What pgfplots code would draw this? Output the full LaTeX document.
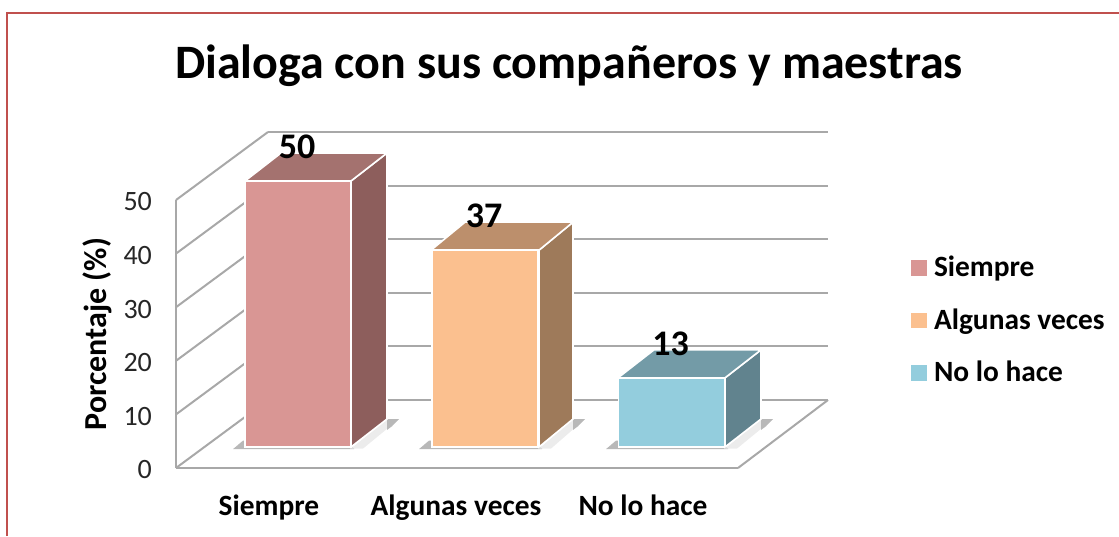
\documentclass[border=0pt]{standalone}
\usepackage{fontspec}
\setmainfont{Carlito}
\usepackage{pgfplots}
\pgfplotsset{compat=1.18}
% 1 px of the reference = 0.5pt
\definecolor{frameRed}{HTML}{C0504D}
\definecolor{wallGrey}{HTML}{A8A8A8}
\definecolor{shadowGrey}{HTML}{B8B8B8}
\definecolor{shadowPale}{HTML}{ECECEC}
\definecolor{redF}{HTML}{D99694}
\definecolor{redT}{HTML}{A4726F}
\definecolor{redS}{HTML}{8D5E5C}
\definecolor{orgF}{HTML}{FBC08F}
\definecolor{orgT}{HTML}{BC8F6C}
\definecolor{orgS}{HTML}{9E7A5A}
\definecolor{bluF}{HTML}{93CDDD}
\definecolor{bluT}{HTML}{739BA7}
\definecolor{bluS}{HTML}{61838E}
\pgfplotsset{
  wall/.style={draw=wallGrey, line width=1pt, forget plot, no markers, sharp plot},
  face/.style={draw=white, line width=0.8pt, fill=#1, forget plot, no markers, sharp plot},
  shadow/.style={draw=none, fill=#1, forget plot, no markers, sharp plot},
  bar3d/.style={ybar, bar width=53pt, bar shift=0pt, fill=#1, draw=white, line width=0.8pt,
    nodes near coords, nodes near coords align={center},
    every node near coord/.append style={font=\fontsize{18}{20}\selectfont\bfseries, text=black, yshift=17pt, xshift=-0.5pt},
    legend image code/.code={\fill[#1] (0pt,-3.5pt) rectangle (7pt,3.5pt);}},
}
\begin{document}
\begin{tikzpicture}
\path[use as bounding box] (0,0) rectangle (559.5pt,268pt);
\draw[frameRed, line width=1pt] (3.3pt,0) -- (3.3pt,261.5pt) -- (559.5pt,261.5pt);
\node[font=\fontsize{24}{28}\selectfont\bfseries] at (284.5pt,235pt) {Dialoga con sus compañeros y maestras};

% frame: walls, floor, ticks
\begin{axis}[
  at={(88pt,34pt)}, anchor=south west, scale only axis,
  width=281pt, height=134pt,
  xmin=176, xmax=738, ymin=0, ymax=50,
  clip=false,
  axis x line*=bottom, axis y line*=left,
  axis line style={draw=wallGrey, line width=1pt, -},
  xtick={269,456,643},
  xticklabels={Siempre,Algunas veces,No lo hace},
  ytick={0,10,20,30,40,50},
  major tick length=0pt,
  /pgf/number format/assume math mode=true,
  xticklabel style={font=\fontsize{14.7}{16}\selectfont\bfseries, text=black, yshift=-10pt},
  yticklabel style={font=\fontsize{14}{16}\selectfont, text=black!85, xshift=-8.5pt, yshift=-1pt},
  ylabel={Porcentaje (\%)},
  every axis y label/.style={at={(rel axis cs:0,0.5)}, rotate=90, anchor=center,
    yshift=39.5pt, font=\fontsize{16}{18}\selectfont\bfseries},
]
% back wall lines
\addplot[wall] coordinates {(268,12.69) (828,12.69)};
\addplot[wall] coordinates {(268,22.69) (828,22.69)};
\addplot[wall] coordinates {(268,32.69) (828,32.69)};
\addplot[wall] coordinates {(268,42.69) (828,42.69)};
\addplot[wall] coordinates {(268,52.69) (828,52.69)};
\addplot[wall] coordinates {(268,62.69) (828,62.69)};
% side wall lines
\addplot[wall] coordinates {(176,0) (268,12.69)};
\addplot[wall] coordinates {(176,10) (268,22.69)};
\addplot[wall] coordinates {(176,20) (268,32.69)};
\addplot[wall] coordinates {(176,30) (268,42.69)};
\addplot[wall] coordinates {(176,40) (268,52.69)};
\addplot[wall] coordinates {(176,50) (268,62.69)};
% floor edge
\addplot[wall] coordinates {(738,0) (828,12.69)};
\end{axis}

% bars, base 21 px above the axis line
\begin{axis}[
  at={(88pt,44.5pt)}, anchor=south west, scale only axis,
  width=281pt, height=133pt,
  xmin=176, xmax=738, ymin=0, ymax=50,
  clip=false, hide axis,
  /pgf/number format/assume math mode=true,
  legend style={at={(axis cs:911,23.8)}, anchor=west, draw=none, fill=none,
    font=\fontsize{14.7}{16}\selectfont\bfseries, row sep=12.5pt, column sep=2.5pt, inner sep=0pt, nodes={inner sep=1pt}},
  legend cell align=left,
]
% floor shadows
\addplot[shadow=shadowGrey] coordinates {(233,-0.4) (243,1.2) (246,1.2) (354,0) (354,-0.4)} -- cycle;
\addplot[shadow=shadowPale] coordinates {(351,-0.3) (387,5.26) (399,5.26) (363,-0.3)} -- cycle;
\addplot[shadow=shadowGrey] coordinates {(387,5.26) (399,5.26) (392,3.9) (387,3.2)} -- cycle;
\addplot[shadow=shadowGrey] coordinates {(419,-0.4) (429,1.2) (432,1.2) (542,0) (542,-0.4)} -- cycle;
\addplot[shadow=shadowPale] coordinates {(539,-0.3) (573,5.26) (585,5.26) (551,-0.3)} -- cycle;
\addplot[shadow=shadowGrey] coordinates {(573,5.26) (585,5.26) (578,3.9) (573,3.2)} -- cycle;
\addplot[shadow=shadowGrey] coordinates {(606,-0.4) (616,1.2) (619,1.2) (728,0) (728,-0.4)} -- cycle;
\addplot[shadow=shadowPale] coordinates {(725,-0.3) (761,5.26) (773,5.26) (737,-0.3)} -- cycle;
\addplot[shadow=shadowGrey] coordinates {(761,5.26) (773,5.26) (766,3.9) (761,3.2)} -- cycle;

% Siempre
\addplot[face=redS] coordinates {(351,0) (387,5.26) (387,55.26) (351,50)} -- cycle;
\addplot[face=redT] coordinates {(245,50) (351,50) (387,55.26) (281,55.26)} -- cycle;
\addplot[bar3d=redF] coordinates {(298,50)};
\addlegendentry{Siempre}
% Algunas veces
\addplot[face=orgS] coordinates {(539,0) (573,5.26) (573,42.26) (539,37)} -- cycle;
\addplot[face=orgT] coordinates {(431,37) (539,37) (573,42.26) (465,42.26)} -- cycle;
\addplot[bar3d=orgF] coordinates {(485,37)};
\addlegendentry{Algunas veces}
% No lo hace
\addplot[face=bluS] coordinates {(725,0) (761,5.26) (761,18.26) (725,13)} -- cycle;
\addplot[face=bluT] coordinates {(618,13) (725,13) (761,18.26) (654,18.26)} -- cycle;
\addplot[bar3d=bluF] coordinates {(671.5,13)};
\addlegendentry{No lo hace}
\end{axis}
\end{tikzpicture}
\end{document}
